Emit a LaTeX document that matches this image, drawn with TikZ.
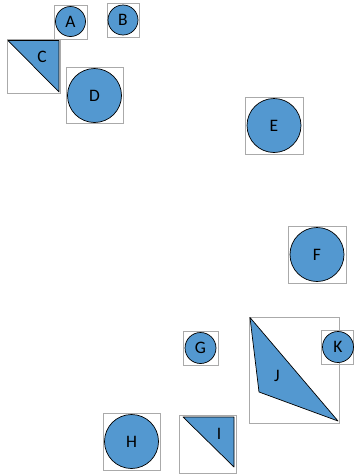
\documentclass[tikz,border=0pt]{standalone}
\usepackage{fontspec}
\setmainfont{Carlito}
\definecolor{shapeblue}{RGB}{83,152,208}
\definecolor{boxgray}{RGB}{170,170,170}
\begin{document}
\begin{tikzpicture}[x=1pt,y=-1pt,
  frame/.style={draw=boxgray,line width=0.9pt},
  blob/.style={circle,draw=black,fill=shapeblue,line width=0.7pt,inner sep=0pt,font=\fontsize{17.5}{17.5}\selectfont},
  tri/.style={draw=black,fill=shapeblue,line width=0.7pt,line join=round},
  lbl/.style={font=\fontsize{17.5}{17.5}\selectfont,inner sep=0pt}]
\useasboundingbox (0,0) rectangle (354,474);
% A
\draw[frame] (54,5) rectangle (87,39);
\node[blob,minimum size=30pt] (A) at (70.5,21.5) {A};
% B
\draw[frame] (107,3.5) rectangle (139,37);
\node[blob,minimum size=30pt] (B) at (123,20) {B};
% C
\draw[frame] (7,39.5) rectangle (60,93);
\draw[tri] (8,40.5) -- (59,40.5) -- (59,92) -- cycle;
\node[lbl] (C) at (42,57) {C};
% D
\draw[frame] (66,67) rectangle (123,123);
\node[blob,minimum size=54pt] (D) at (94.5,95.5) {D};
% E
\draw[frame] (245,97) rectangle (303,154);
\node[blob,minimum size=54pt] (E) at (274,125.5) {E};
% F
\draw[frame] (288,226) rectangle (346,283);
\node[blob,minimum size=54pt] (F) at (317,254.5) {F};
% G
\draw[frame] (183,331) rectangle (218,365);
\node[blob,minimum size=31pt] (G) at (200.5,348) {G};
% J
\draw[frame] (249,317) rectangle (339,423);
\draw[tri] (250,317.5) -- (259,392) -- (338,421) -- cycle;
\node[lbl] (J) at (277,376) {J};
% K
\draw[frame] (321,330) rectangle (353,364);
\node[blob,minimum size=31pt] (K) at (338,347) {K};
% I
\draw[frame] (179,415) rectangle (236,473);
\draw[tri] (183,417) -- (234,417) -- (234,467) -- cycle;
\node[lbl] (I) at (219,434) {I};
% H
\draw[frame] (103,413) rectangle (160,470);
\node[blob,minimum size=54pt] (H) at (131.5,441.5) {H};
\end{tikzpicture}
\end{document}
